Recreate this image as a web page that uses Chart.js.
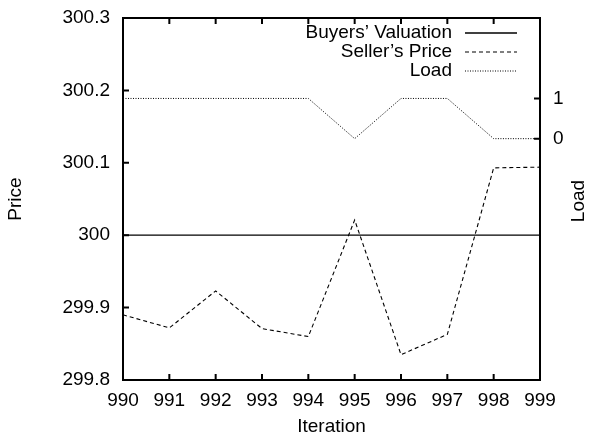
<!DOCTYPE html>
<html>
<head>
<meta charset="utf-8">
<script src="https://cdn.jsdelivr.net/npm/chart.js@4/dist/chart.umd.min.js"></script>
<style>
  body { margin: 0; background: #fff; }
  #wrap { width: 590px; height: 435px; }
</style>
</head>
<body>
<div id="wrap"><canvas id="myChart"></canvas></div>
<script>
// chart data
const iterations = ['990', '991', '992', '993', '994', '995', '996', '997', '998', '999'];
const buyersValuation = [300, 300, 300, 300, 300, 300, 300, 300, 300, 300];
const sellersPrice = [299.890, 299.872, 299.923, 299.871, 299.860, 300.021, 299.835, 299.863, 300.093, 300.094];
const load = [1, 1, 1, 1, 1, 0, 1, 1, 0, 0];
const loadTicks = [0, 1];

const FONT = { family: 'Liberation Sans, Arial, sans-serif', size: 19 };

// gnuplot-ish frame: border, inward ticks, legend inside, right title read upwards
const framePlugin = {
    id: 'frame',
    afterDatasetsDraw(chart) {
        const ctx = chart.ctx;
        const a = chart.chartArea;
        const x = chart.scales.x, y = chart.scales.y, y2 = chart.scales.y2;
        const tl = 6;
        ctx.save();
        ctx.strokeStyle = '#000';
        ctx.lineWidth = 2;
        ctx.beginPath();
        x.ticks.forEach((t, i) => {
            const px = x.getPixelForTick(i);
            ctx.moveTo(px, a.bottom); ctx.lineTo(px, a.bottom - tl);
            ctx.moveTo(px, a.top); ctx.lineTo(px, a.top + tl);
        });
        y.ticks.forEach((t) => {
            const py = y.getPixelForValue(t.value);
            ctx.moveTo(a.left, py); ctx.lineTo(a.left + tl, py);
        });
        y2.ticks.forEach((t) => {
            const py = y2.getPixelForValue(t.value);
            ctx.moveTo(a.right, py); ctx.lineTo(a.right - tl, py);
        });
        ctx.stroke();
        ctx.strokeRect(a.left, a.top, a.right - a.left, a.bottom - a.top);

        // legend
        ctx.font = FONT.size + 'px ' + FONT.family;
        ctx.fillStyle = '#000';
        ctx.textAlign = 'right';
        ctx.textBaseline = 'middle';
        chart.data.datasets.forEach((ds, i) => {
            const ly = 33 + i * 19;
            ctx.fillText(ds.label, 452, ly);
            ctx.beginPath();
            ctx.lineWidth = ds.borderWidth;
            ctx.setLineDash(ds.borderDash || []);
            ctx.moveTo(465, ly);
            ctx.lineTo(517, ly);
            ctx.stroke();
        });
        ctx.setLineDash([]);

        // right axis title
        ctx.translate(579, (a.top + a.bottom) / 2 + 2);
        ctx.rotate(-Math.PI / 2);
        ctx.textAlign = 'center';
        ctx.fillText('Load', 0, 0);
        ctx.restore();
    }
};

const ctx = document.getElementById('myChart').getContext('2d');
new Chart(ctx, {
    type: 'line',
    data: {
        labels: iterations,
        datasets: [{
            label: 'Buyers\u2019 Valuation',
            data: buyersValuation,
            borderColor: '#000',
            borderWidth: 1.3,
            pointRadius: 0,
            yAxisID: 'y'
        }, {
            label: 'Seller\u2019s Price',
            data: sellersPrice,
            borderColor: '#000',
            borderWidth: 1.1,
            borderDash: [4, 3],
            pointRadius: 0,
            yAxisID: 'y'
        }, {
            label: 'Load',
            data: load,
            borderColor: '#000',
            borderWidth: 1,
            borderDash: [1, 1.5],
            pointRadius: 0,
            yAxisID: 'y2'
        }]
    },
    options: {
        animation: false,
        responsive: true,
        maintainAspectRatio: false,
        layout: { padding: { top: 18, left: 0, right: 0, bottom: 0 } },
        plugins: { legend: { display: false }, tooltip: { enabled: false } },
        scales: {
            x: {
                offset: false,
                grid: { display: false },
                border: { display: false },
                ticks: { color: '#000', font: FONT, padding: 1, maxRotation: 0 },
                title: { display: true, text: 'Iteration', color: '#000', font: FONT, padding: { top: 0, bottom: -3 } },
                afterFit: (s) => { s.height = 55; }
            },
            y: {
                position: 'left',
                min: 299.8,
                max: 300.3,
                grid: { display: false },
                border: { display: false },
                ticks: {
                    stepSize: 0.1, color: '#000', font: FONT, padding: 5,
                    callback: (v) => String(+v.toFixed(1))
                },
                title: { display: true, text: 'Price', color: '#000', font: FONT, padding: { top: 4, bottom: 0 } },
                afterFit: (s) => { s.width = 123; }
            },
            y2: {
                position: 'right',
                min: -6,
                max: 3,
                grid: { display: false },
                border: { display: false },
                ticks: { color: '#000', font: FONT, padding: 5 },
                afterBuildTicks: (s) => { s.ticks = loadTicks.map(v => ({ value: v })); },
                afterFit: (s) => { s.width = 50; }
            }
        }
    },
    plugins: [framePlugin]
});
</script>
</body>
</html>
